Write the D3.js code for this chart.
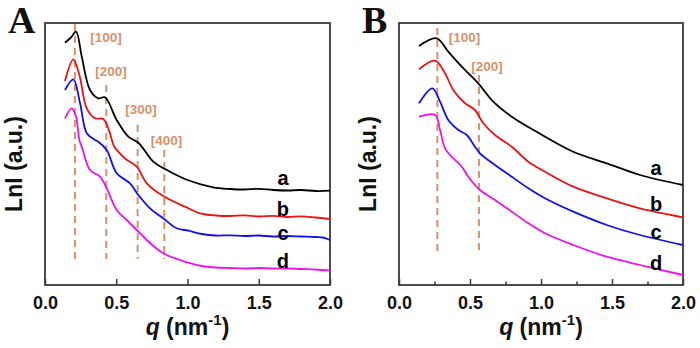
<!DOCTYPE html>
<html>
<head>
<meta charset="utf-8">
<script src="https://cdn.jsdelivr.net/npm/d3@7"></script>
<style>
  body { margin: 0; background: #fff; }
  text { font-family: Arial, "Liberation Sans", sans-serif; font-weight: bold; }
</style>
</head>
<body>
<div class="chart"></div>
<script>
// q values (nm^-1) and LnI (a.u., arbitrary offset)
const seriesNames = ['a', 'b', 'c', 'd']
const xTicks = [0, 0.5, 1, 1.5, 2]
const xMinorTicksB = [0.25, 0.75, 1.25, 1.75]

// panel A
const curveA_a = [[0.14,24.23],[0.182,24.75],[0.218,25.33],[0.258,22.83],[0.316,19.5],[0.374,18.67],[0.421,18.77],[0.503,16.5],[0.585,14.83],[0.655,14.23],[0.76,12.33],[0.842,11.6],[1.0,10.5],[1.18,9.77],[1.3,9.6],[1.4,9.55],[1.5,9.62],[1.6,9.5],[1.7,9.45],[1.8,9.5],[1.9,9.4],[2.0,9.43]]
const curveA_b = [[0.14,20.4],[0.199,22.57],[0.241,21.0],[0.293,17.67],[0.351,16.67],[0.409,16.6],[0.456,15.17],[0.484,13.9],[0.561,12.67],[0.644,11.83],[0.714,10.17],[0.83,8.9],[1.006,7.67],[1.088,7.17],[1.2,6.95],[1.3,6.9],[1.4,6.97],[1.5,6.85],[1.6,6.92],[1.7,6.8],[1.8,6.87],[1.9,6.75],[2.0,6.6]]
const curveA_c = [[0.14,19.5],[0.199,20.57],[0.246,18.17],[0.293,15.17],[0.351,14.5],[0.374,14.33],[0.433,13.5],[0.503,11.17],[0.596,10.17],[0.655,9.0],[0.737,7.67],[0.83,6.67],[0.924,5.67],[1.006,5.43],[1.1,5.1],[1.2,4.95],[1.3,4.97],[1.4,4.9],[1.5,4.95],[1.6,4.85],[1.7,4.9],[1.8,4.85],[1.9,4.8],[1.95,4.75],[2.0,4.5]]
const curveA_d = [[0.14,16.67],[0.187,17.67],[0.218,16.83],[0.241,14.5],[0.258,13.83],[0.316,11.5],[0.386,10.83],[0.433,9.67],[0.503,7.5],[0.573,6.5],[0.644,5.5],[0.714,4.5],[0.83,3.17],[1.006,2.23],[1.1,1.9],[1.2,1.75],[1.3,1.7],[1.4,1.65],[1.5,1.7],[1.6,1.65],[1.7,1.66],[1.8,1.6],[1.9,1.55],[2.0,1.43]]

// panel B
const curveB_a = [[0.141,23.9],[0.265,24.67],[0.347,23.33],[0.442,21.83],[0.558,20.17],[0.664,18.33],[0.794,16.83],[0.972,15.3],[1.227,13.33],[1.463,12.17],[1.697,11.0],[2.0,10.0]]
const curveB_b = [[0.141,21.57],[0.254,22.43],[0.324,21.17],[0.382,19.5],[0.465,18.17],[0.535,17.5],[0.594,16.17],[0.676,15.0],[0.794,13.83],[0.911,12.33],[1.028,11.33],[1.227,9.83],[1.463,8.67],[1.697,7.67],[2.0,6.77]]
const curveB_c = [[0.141,18.17],[0.235,19.67],[0.289,18.33],[0.347,16.5],[0.418,15.5],[0.477,15.0],[0.535,13.83],[0.57,13.17],[0.676,12.0],[0.794,10.83],[0.911,9.67],[1.028,8.67],[1.227,7.33],[1.463,6.0],[1.697,5.0],[2.0,4.0]]
const curveB_d = [[0.141,16.83],[0.254,17.0],[0.289,15.5],[0.324,13.67],[0.359,13.0],[0.442,11.83],[0.488,10.83],[0.57,9.5],[0.676,8.5],[0.794,7.33],[0.911,6.17],[1.028,5.17],[1.227,4.0],[1.463,2.83],[1.697,2.0],[2.0,1.0]]

// Bragg peak markers: q position, top of dashed line, label
const peakLabelsA = ['[100]', '[200]', '[300]', '[400]']
const peakQA = [0.21, 0.43, 0.65, 0.837]
const peakTopA = [26.1, 20.0, 16.0, 13.5]
const peakLabelQA = [0.428, 0.463, 0.674, 0.853]
const peakLabelVA = [24.3, 20.9, 17.1, 14.0]

const peakLabelsB = ['[100]', '[200]']
const peakQB = [0.27, 0.563]
const peakTopB = [25.7, 21.0]
const peakLabelQB = [0.461, 0.62]
const peakLabelVB = [24.3, 21.43]

// series letter anchors
const letterVA = [10.0, 6.9, 4.5, 1.7]
const letterVB = [11.0, 7.4, 4.6, 1.5]

const colors = d3.scaleOrdinal()
    .domain(seriesNames)
    .range(['#000000', '#ee1111', '#1010ee', '#ee11ee'])

const dashColor = '#d8926a'

const svg = d3.select('.chart')
  .append('svg')
    .attr('width', 700)
    .attr('height', 348)

const drawPanel = (opts) => {
    const { left, right, letter, curves, peaksQ, peaksTop, peakBottom,
            labels, labelQ, labelV, letterQ, letterV, minor } = opts
    const top = 23, bottom = 285

    const xScale = d3.scaleLinear().domain([0, 2]).range([left, right])
    const yScale = d3.scaleLinear().domain([0, 26.2]).range([bottom, top])

    const g = svg.append('g')

    // frame
    g.append('rect')
        .attr('x', left)
        .attr('y', top)
        .attr('width', right - left)
        .attr('height', bottom - top)
        .style('fill', 'none')
        .style('stroke', '#3a3a3a')
        .style('stroke-width', 1.8)

    // dashed peak markers
    g.selectAll('line.peak')
      .data(peaksQ)
      .enter()
      .append('line')
        .attr('class', 'peak')
        .attr('x1', d => xScale(d))
        .attr('x2', d => xScale(d))
        .attr('y1', (d, i) => yScale(peaksTop[i]))
        .attr('y2', yScale(peakBottom))
        .style('stroke', dashColor)
        .style('stroke-width', 2)
        .style('stroke-dasharray', '7,5')

    g.selectAll('text.peak')
      .data(labels)
      .enter()
      .append('text')
        .attr('class', 'peak')
        .attr('x', (d, i) => xScale(labelQ[i]))
        .attr('y', (d, i) => yScale(labelV[i]))
        .attr('text-anchor', 'middle')
        .style('font-size', '13.5px')
        .style('fill', dashColor)
        .text(d => d)

    // curves
    const line = d3.line()
        .x(d => xScale(d[0]))
        .y(d => yScale(d[1]))
        .curve(d3.curveCatmullRom.alpha(0.5))

    g.selectAll('path.curve')
      .data(curves)
      .enter()
      .append('path')
        .attr('class', 'curve')
        .attr('d', line)
        .style('fill', 'none')
        .style('stroke', (d, i) => colors(seriesNames[i]))
        .style('stroke-width', 1.8)

    g.selectAll('text.series')
      .data(seriesNames)
      .enter()
      .append('text')
        .attr('class', 'series')
        .attr('x', xScale(letterQ))
        .attr('y', (d, i) => yScale(letterV[i]))
        .attr('text-anchor', 'middle')
        .style('font-size', '20px')
        .text(d => d)

    // x axis, ticks pointing inward
    const axis = g.append('g')
        .attr('transform', `translate(0, ${bottom})`)
        .call(d3.axisBottom(xScale)
                .tickValues(xTicks)
                .tickSizeInner(-6)
                .tickSizeOuter(0)
                .tickPadding(11)
                .tickFormat(d3.format('.1f')))
    axis.select('.domain').remove()
    axis.selectAll('line').style('stroke', '#3a3a3a').style('stroke-width', 1.5)
    axis.selectAll('text')
        .style('font-size', '18px')
        .style('font-family', 'Arial, "Liberation Sans", sans-serif')
        .style('font-weight', 'bold')
        .style('fill', '#111')

    if (minor) {
        const minorAxis = g.append('g')
            .attr('transform', `translate(0, ${bottom})`)
            .call(d3.axisBottom(xScale)
                    .tickValues(minor)
                    .tickSizeInner(-3.5)
                    .tickSizeOuter(0)
                    .tickFormat(''))
        minorAxis.select('.domain').remove()
        minorAxis.selectAll('line').style('stroke', '#3a3a3a').style('stroke-width', 1.5)
    }

    // axis title
    const title = g.append('text')
        .attr('x', (left + right) / 2)
        .attr('y', 335)
        .attr('text-anchor', 'middle')
        .style('font-size', '23px')
        .style('fill', '#111')
    title.append('tspan').style('font-style', 'italic').text('q')
    title.append('tspan').text(' (nm')
    title.append('tspan').attr('dy', -10).style('font-size', '15px').text('-1')
    title.append('tspan').attr('dy', 10).text(')')

    // y label
    g.append('text')
        .attr('transform', `translate(${left - 23}, 164) rotate(-90)`)
        .attr('text-anchor', 'middle')
        .style('font-size', '23px')
        .style('fill', '#111')
        .text('LnI (a.u.)')

    // panel letter
    g.append('text')
        .attr('x', left - 37)
        .attr('y', 33)
        .style('font-family', '"Liberation Serif", "Times New Roman", serif')
        .style('font-size', '38px')
        .style('fill', '#111')
        .text(letter)
}

drawPanel({
    left: 45, right: 330, letter: 'A',
    curves: [curveA_a, curveA_b, curveA_c, curveA_d],
    peaksQ: peakQA, peaksTop: peakTopA, peakBottom: 2.6,
    labels: peakLabelsA, labelQ: peakLabelQA, labelV: peakLabelVA,
    letterQ: 1.67, letterV: letterVA
})

drawPanel({
    left: 399, right: 683, letter: 'B',
    curves: [curveB_a, curveB_b, curveB_c, curveB_d],
    peaksQ: peakQB, peaksTop: peakTopB, peakBottom: 3.33,
    labels: peakLabelsB, labelQ: peakLabelQB, labelV: peakLabelVB,
    letterQ: 1.81, letterV: letterVB,
    minor: xMinorTicksB
})
</script>
</body>
</html>
